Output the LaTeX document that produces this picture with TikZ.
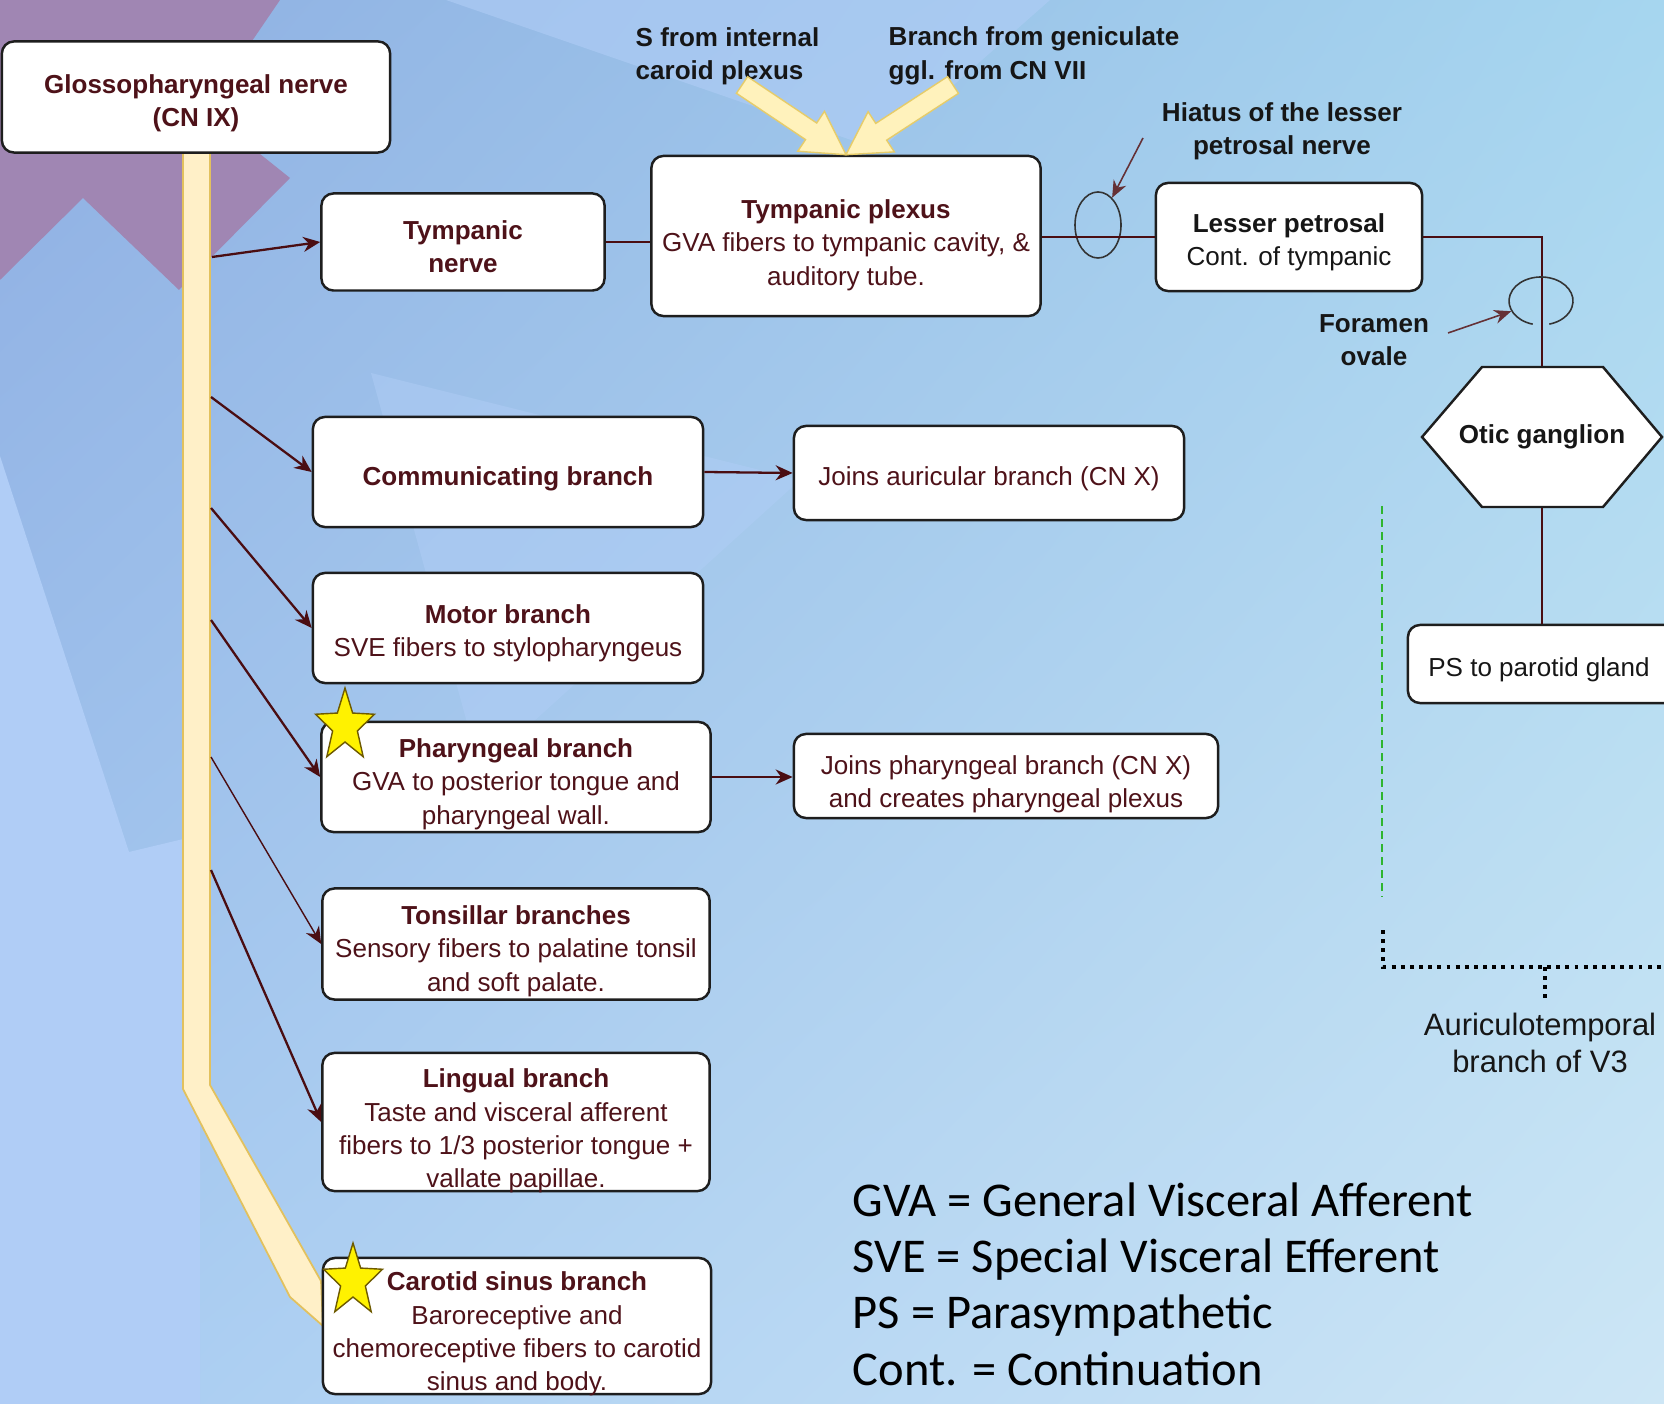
\documentclass[tikz,border=0pt]{standalone}
\usepackage{fontspec}
\setmainfont{Liberation Sans}
\newfontfamily\legendfont{Carlito}
\usetikzlibrary{arrows.meta,calc,shadings,shapes.geometric}

\definecolor{nervered}{HTML}{4A0D12}
\definecolor{nervetext}{HTML}{4E1219}
\definecolor{notetext}{HTML}{161616}
\definecolor{boxline}{HTML}{1E1E1E}
\definecolor{ringgray}{HTML}{333333}
\definecolor{trunkfill}{HTML}{FFF0C8}
\definecolor{trunkline}{HTML}{E2C15E}
\definecolor{fibrefill}{HTML}{FFF2BC}
\definecolor{fibreline}{HTML}{E6CC6A}
\definecolor{stargold}{HTML}{6E5A00}
\definecolor{bgA}{HTML}{8EAEE2}
\definecolor{bgB}{HTML}{A6D6EF}
\definecolor{bgC}{HTML}{A8CCF2}
\definecolor{bgD}{HTML}{CDE6F5}
\definecolor{bgpurple}{HTML}{A086B3}
\definecolor{bglight}{HTML}{B0CDF6}
\definecolor{greendash}{HTML}{2FB52F}

\newcommand{\inputarrow}[2]{%
	\coordinate (ia-h) at ($(#2)!0.42cm!(#1)$);
	\filldraw [fibre] ($(#1)!0.1cm!90:(#2)$)--($(ia-h)!0.1cm!90:(#2)$)--($(ia-h)!0.24cm!90:(#2)$)--(#2)
		--($(ia-h)!0.24cm!-90:(#2)$)--($(ia-h)!0.1cm!-90:(#2)$)--($(#1)!0.1cm!-90:(#2)$)--cycle;}
\newcommand{\keystar}[1]{%
	\filldraw [keymark, shift={(#1)}] (-90:31 and 38)--(-54:13 and 16)--(-18:31 and 38)--(18:13 and 16)
		--(54:31 and 38)--(90:13 and 16)--(126:31 and 38)--(162:13 and 16)--(198:31 and 38)--(234:13 and 16)--cycle;}

\begin{document}
\begin{tikzpicture}[x=0.01cm, y=-0.01cm,
		box/.style={draw=boxline, fill=white, line width=0.7pt, rounded corners=0.12cm, inner sep=0pt},
		body/.style={align=center, text=nervetext, inner sep=0pt, font=\fontsize{7.4}{9.5}\selectfont},
		note/.style={align=center, text=notetext, inner sep=0pt, font=\fontsize{7.4}{9.5}\selectfont\bfseries},
		branch/.style={draw=nervered, line width=0.65pt, -{Stealth[length=0.17cm, width=0.15cm]}},
		link/.style={draw=nervered, line width=0.6pt},
		pointer/.style={draw=nervered!85, line width=0.45pt, -{Stealth[length=0.17cm, width=0.14cm]}},
		ring/.style={draw=ringgray, line width=0.45pt},
		fibre/.style={fill=fibrefill, draw=fibreline, line width=0.4pt},
		keymark/.style={fill=yellow, draw=stargold, line width=0.4pt},
		dotline/.style={draw=black, line width=1.1pt, dash pattern=on 1.1pt off 1.5pt},
		greenline/.style={draw=greendash, line width=0.6pt, dash pattern=on 2.3pt off 1.4pt}]
	\useasboundingbox (0,0) rectangle (1664,1404);
	\clip (0,0) rectangle (1664,1404);
	\shade [upper left=bgA, upper right=bgB, lower left=bgC, lower right=bgD] (0,0) rectangle (1664,1404);
	\fill [bglight] (0,456)--(129,852)--(200,835)--(200,1404)--(0,1404)--cycle;
	\fill [bglight, opacity=0.5] (371,373)--(800,480)--(480,770)--cycle;
	\fill [bglight, opacity=0.6] (446,0)--(1050,0)--(880,150)--cycle;
	\fill [bgpurple] (0,0)--(280,0)--(205,110)--(290,178)--(179,290)--(83,198)--(0,280)--cycle;

	\filldraw [fill=trunkfill, draw=trunkline, line width=0.5pt] (183,152)--(210,152)--(210,1085)--(321,1281)--(323,1326)--(290,1297)--(183,1089)--cycle;

	\node [box, minimum width=3.88cm, minimum height=1.11cm] (gn) at (196,97) {};
	\node [body] (gn-t) at (196,103) {\textbf{Glossopharyngeal nerve}\\\textbf{(CN IX)}};
	\node [box, minimum width=2.83cm, minimum height=0.97cm] (tn) at (463,242) {};
	\node [body] (tn-t) at (463,247) {\textbf{Tympanic}\\\textbf{nerve}};
	\node [box, minimum width=3.89cm, minimum height=1.60cm] (tp) at (846,236) {};
	\node [body] (tp-t) at (846,245) {\textbf{Tympanic plexus}\\GVA fibers to tympanic cavity, \&\\auditory tube.};
	\node [box, minimum width=2.66cm, minimum height=1.08cm] (lp) at (1289,237) {};
	\node [body, text=notetext] (lp-t) at (1289,242) {\textbf{Lesser petrosal}\\Cont. of tympanic};
	\node [box, minimum width=3.90cm, minimum height=1.10cm] (comm) at (508,472) {};
	\node [body] (comm-t) at (508,479) {\textbf{Communicating branch}};
	\node [box, minimum width=3.90cm, minimum height=0.94cm] (aur) at (989,473) {};
	\node [body] (aur-t) at (989,479) {Joins auricular branch (CN X)};
	\node [box, minimum width=3.90cm, minimum height=1.10cm] (motor) at (508,628) {};
	\node [body] (motor-t) at (508,633) {\textbf{Motor branch}\\SVE fibers to stylopharyngeus};
	\node [box, minimum width=3.89cm, minimum height=1.10cm] (phar) at (516,777) {};
	\node [body] (phar-t) at (516,784) {\textbf{Pharyngeal branch}\\GVA to posterior tongue and\\pharyngeal wall.};
	\node [box, minimum width=4.24cm, minimum height=0.84cm] (jph) at (1006,776) {};
	\node [body] (jph-t) at (1006,784) {Joins pharyngeal branch (CN X)\\and creates pharyngeal plexus};
	\node [box, minimum width=3.87cm, minimum height=1.11cm] (ton) at (516,944) {};
	\node [body] (ton-t) at (516,951) {\textbf{Tonsillar branches}\\Sensory fibers to palatine tonsil\\and soft palate.};
	\node [box, minimum width=3.87cm, minimum height=1.38cm] (ling) at (516,1122) {};
	\node [body] (ling-t) at (516,1131) {\textbf{Lingual branch}\\Taste and visceral afferent\\fibers to 1/3 posterior tongue +\\vallate papillae.};
	\node [box, minimum width=3.88cm, minimum height=1.36cm] (car) at (517,1326) {};
	\node [body] (car-t) at (517,1334) {\textbf{Carotid sinus branch}\\Baroreceptive and\\chemoreceptive fibers to carotid\\sinus and body.};

	\filldraw [fill=white, draw=boxline, line width=0.7pt] (1422,437)--(1482,367)--(1603,367)--(1662,437)--(1603,507)--(1482,507)--cycle;
	\node [note, minimum width=2.40cm, minimum height=1.40cm] (otic) at (1542,437) {Otic ganglion};
	\node [box, minimum width=2.68cm, minimum height=0.78cm] (ps) at (1542,664) {};
	\node [body, text=notetext] (ps-t) at (1539,670) {PS to parotid gland};

	\node [note, align=left, anchor=west] (sfrom) at (635,56) {S from internal\\caroid plexus};
	\node [note, align=left, anchor=west] (gfrom) at (888,56) {Branch from geniculate\\ggl. from CN VII};
	\node [note] (hlabel) at (1282,131) {Hiatus of the lesser\\petrosal nerve};
	\node [note] (flabel) at (1374,340) {Foramen\\ovale};

	\node [ring, ellipse, minimum width=0.46cm, minimum height=0.66cm, inner sep=0pt] (hiatus) at (1098,225) {};
	\node [ellipse, minimum width=0.64cm, minimum height=0.48cm, inner sep=0pt] (foramen) at (1541,301) {};

	\draw [link] (tn.east)--(tn.east -| tp.west);
	\draw [link] (tp.east |- lp.west)--(lp.west);
	\draw [link] (lp.east) -| (otic.north);
	\draw [link] (otic.south)--(ps.north);
	\draw [ring] ($(foramen.center)+(105:32 and 24)$) arc[start angle=105, end angle=435, x radius=32, y radius=24];

	\coordinate (h-tail) at (1143,138);
	\coordinate (f-tail) at (1448,333);
	\draw [pointer] (h-tail)--(hiatus);
	\draw [pointer] (f-tail)--(foramen);

	\coordinate (tap-tn) at (212,257);
	\coordinate (tap-comm) at (211,397);
	\coordinate (tap-motor) at (211,508);
	\coordinate (tap-phar) at (211,620);
	\coordinate (tap-ton) at (211,757);
	\coordinate (tap-ling) at (211,870);
	\draw [branch] (tap-tn)--(tn.west);
	\draw [branch] (tap-comm)--(comm.west);
	\draw [branch] (tap-motor)--(motor.west);
	\draw [branch] (tap-phar)--(phar.west);
	\draw [branch, line width=0.4pt] (tap-ton)--(ton.west);
	\draw [branch] (tap-ling)--(ling.west);
	\draw [branch] (comm.east)--(aur.west);
	\draw [branch] (phar.east)--(phar.east -| jph.west);

	\keystar{345,726}
	\keystar{353,1281}

	\coordinate (s-tail) at (742,85);
	\coordinate (g-tail) at (953,85);
	\inputarrow{s-tail}{tp.north}
	\inputarrow{g-tail}{tp.north}

	\coordinate (gd-top) at (1382,506);
	\coordinate (gd-bot) at (1382,897);
	\draw [greenline] (gd-top)--(gd-bot);

	\node [text=notetext, align=center, inner sep=0pt, font=\fontsize{8.8}{10.5}\selectfont] (auric) at (1540,1043) {Auriculotemporal\\branch of V3};
	\coordinate (at-a) at (1383,930);
	\coordinate (at-b) at (1383,967);
	\coordinate (at-c) at (1664,967);
	\coordinate (at-d) at (1545,967);
	\coordinate (at-e) at (1545,1000);
	\draw [dotline] (at-a)--(at-b)--(at-c);
	\draw [dotline] (at-d)--(at-e);

	\node [anchor=west, align=left, inner sep=0pt, font=\legendfont\fontsize{13.8}{16}\selectfont] (legend) at (852,1284) {GVA = General Visceral Afferent\\SVE = Special Visceral Efferent\\PS = Parasympathetic\\Cont. = Continuation};
\end{tikzpicture}
\end{document}
